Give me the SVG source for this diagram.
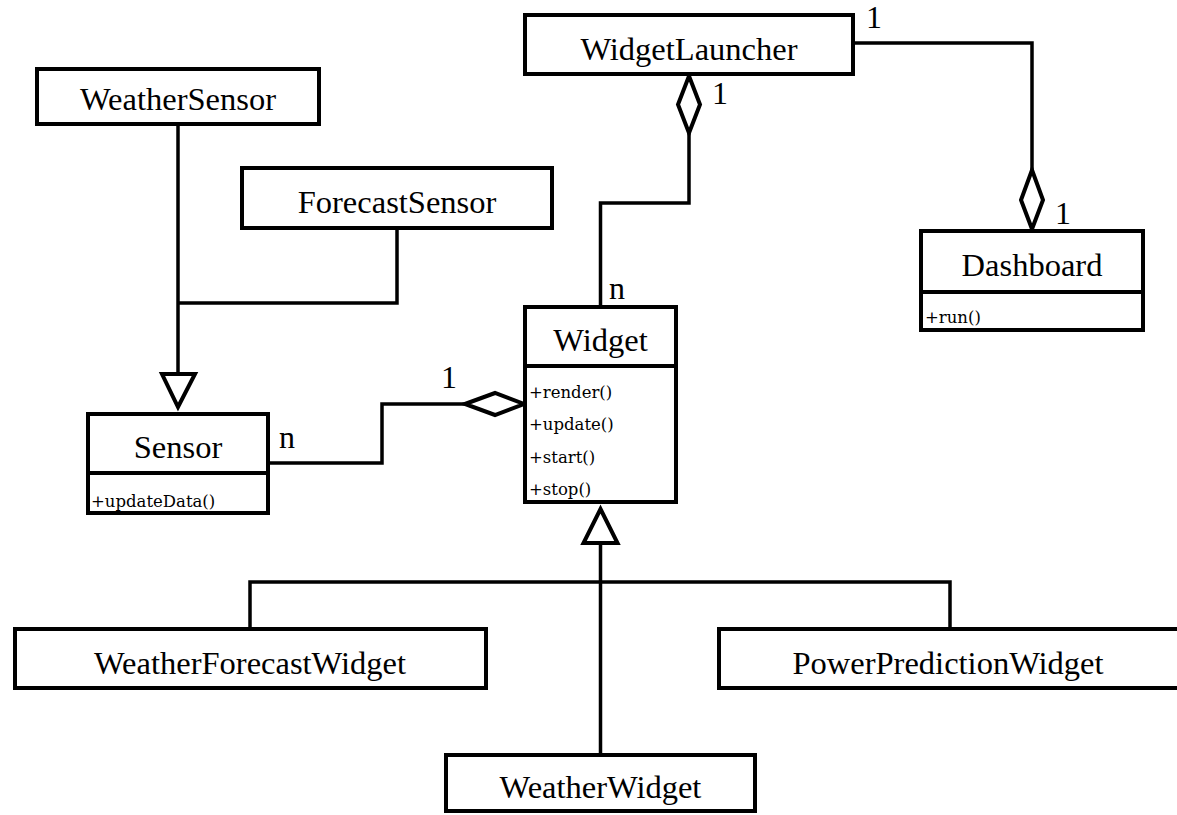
<svg xmlns="http://www.w3.org/2000/svg" width="1177" height="815" viewBox="0 0 1177 815">
  <style>
    .box { fill: #fff; stroke: #000; stroke-width: 4; }
    .div { stroke: #000; stroke-width: 4; }
    .title { font-family: "Liberation Serif", "Times New Roman", serif; font-size: 32.5px; fill: #000; text-anchor: middle; }
    .op { font-family: "DejaVu Serif", serif; font-size: 16.5px; fill: #000; }
    .mult { font-family: "Liberation Serif", "Times New Roman", serif; font-size: 32px; fill: #000; }
    .wire { fill: none; stroke: #000; stroke-width: 3.5; stroke-linejoin: miter; }
    .head { fill: #fff; stroke: #000; stroke-width: 4; stroke-linejoin: miter; }
  </style>

  <!-- connectors -->
  <g id="connectors">
    <!-- WeatherSensor / ForecastSensor generalise Sensor -->
    <path class="wire" d="M178 126 V373"/>
    <path class="wire" d="M397 230 V303 H178"/>
    <polygon class="head" points="162,374 195,374 178,407"/>

    <!-- Widget aggregated by WidgetLauncher -->
    <path class="wire" d="M600.5 305 V203 H689 V133"/>
    <polygon class="head" points="689,76 700,104.5 689,133 678,104.5"/>

    <!-- Dashboard aggregated by WidgetLauncher -->
    <path class="wire" d="M855 43 H1032 V170"/>
    <polygon class="head" points="1032,170 1043,200 1032,229 1021,200"/>

    <!-- Sensor aggregated by Widget -->
    <path class="wire" d="M270 463 H382 V404 H465"/>
    <polygon class="head" points="465,404 495,393 524,404 495,415"/>

    <!-- Widget subclasses -->
    <path class="wire" d="M600.5 543 V755"/>
    <path class="wire" d="M250 629 V582 H950 V629"/>
    <polygon class="head" points="600.5,509 617.5,543 583.5,543"/>

    <!-- multiplicities -->
    <text class="mult" x="866" y="28">1</text>
    <text class="mult" x="712" y="104">1</text>
    <text class="mult" x="1055" y="224">1</text>
    <text class="mult" x="609" y="299">n</text>
    <text class="mult" x="441" y="388">1</text>
    <text class="mult" x="279" y="448">n</text>
  </g>

  <g id="WidgetLauncher">
    <rect class="box" x="525" y="15" width="328" height="59"/>
    <text class="title" x="689" y="60">WidgetLauncher</text>
  </g>

  <g id="WeatherSensor">
    <rect class="box" x="37" y="69" width="282" height="55"/>
    <text class="title" x="178" y="110">WeatherSensor</text>
  </g>

  <g id="ForecastSensor">
    <rect class="box" x="242" y="168" width="310" height="60"/>
    <text class="title" x="397" y="213">ForecastSensor</text>
  </g>

  <g id="Dashboard">
    <rect class="box" x="921" y="231" width="222" height="99"/>
    <line class="div" x1="921" y1="292" x2="1143" y2="292"/>
    <text class="title" x="1032" y="276">Dashboard</text>
    <text class="op" x="925" y="323">+run()</text>
  </g>

  <g id="Widget">
    <rect class="box" x="525" y="307" width="151" height="195"/>
    <line class="div" x1="525" y1="366" x2="676" y2="366"/>
    <text class="title" x="600.5" y="351">Widget</text>
    <text class="op" x="529" y="398">+render()</text>
    <text class="op" x="529" y="430">+update()</text>
    <text class="op" x="529" y="463">+start()</text>
    <text class="op" x="529" y="495">+stop()</text>
  </g>

  <g id="Sensor">
    <rect class="box" x="88" y="414" width="180" height="99"/>
    <line class="div" x1="88" y1="473" x2="268" y2="473"/>
    <text class="title" x="178" y="458">Sensor</text>
    <text class="op" x="91" y="507">+updateData()</text>
  </g>

  <g id="WeatherForecastWidget">
    <rect class="box" x="15" y="629" width="471" height="59"/>
    <text class="title" x="250" y="674">WeatherForecastWidget</text>
  </g>

  <g id="PowerPredictionWidget">
    <rect class="box" x="719" y="629" width="460" height="59"/>
    <text class="title" x="948" y="674">PowerPredictionWidget</text>
  </g>

  <g id="WeatherWidget">
    <rect class="box" x="446" y="755" width="309" height="56"/>
    <text class="title" x="600.5" y="798">WeatherWidget</text>
  </g>
</svg>
